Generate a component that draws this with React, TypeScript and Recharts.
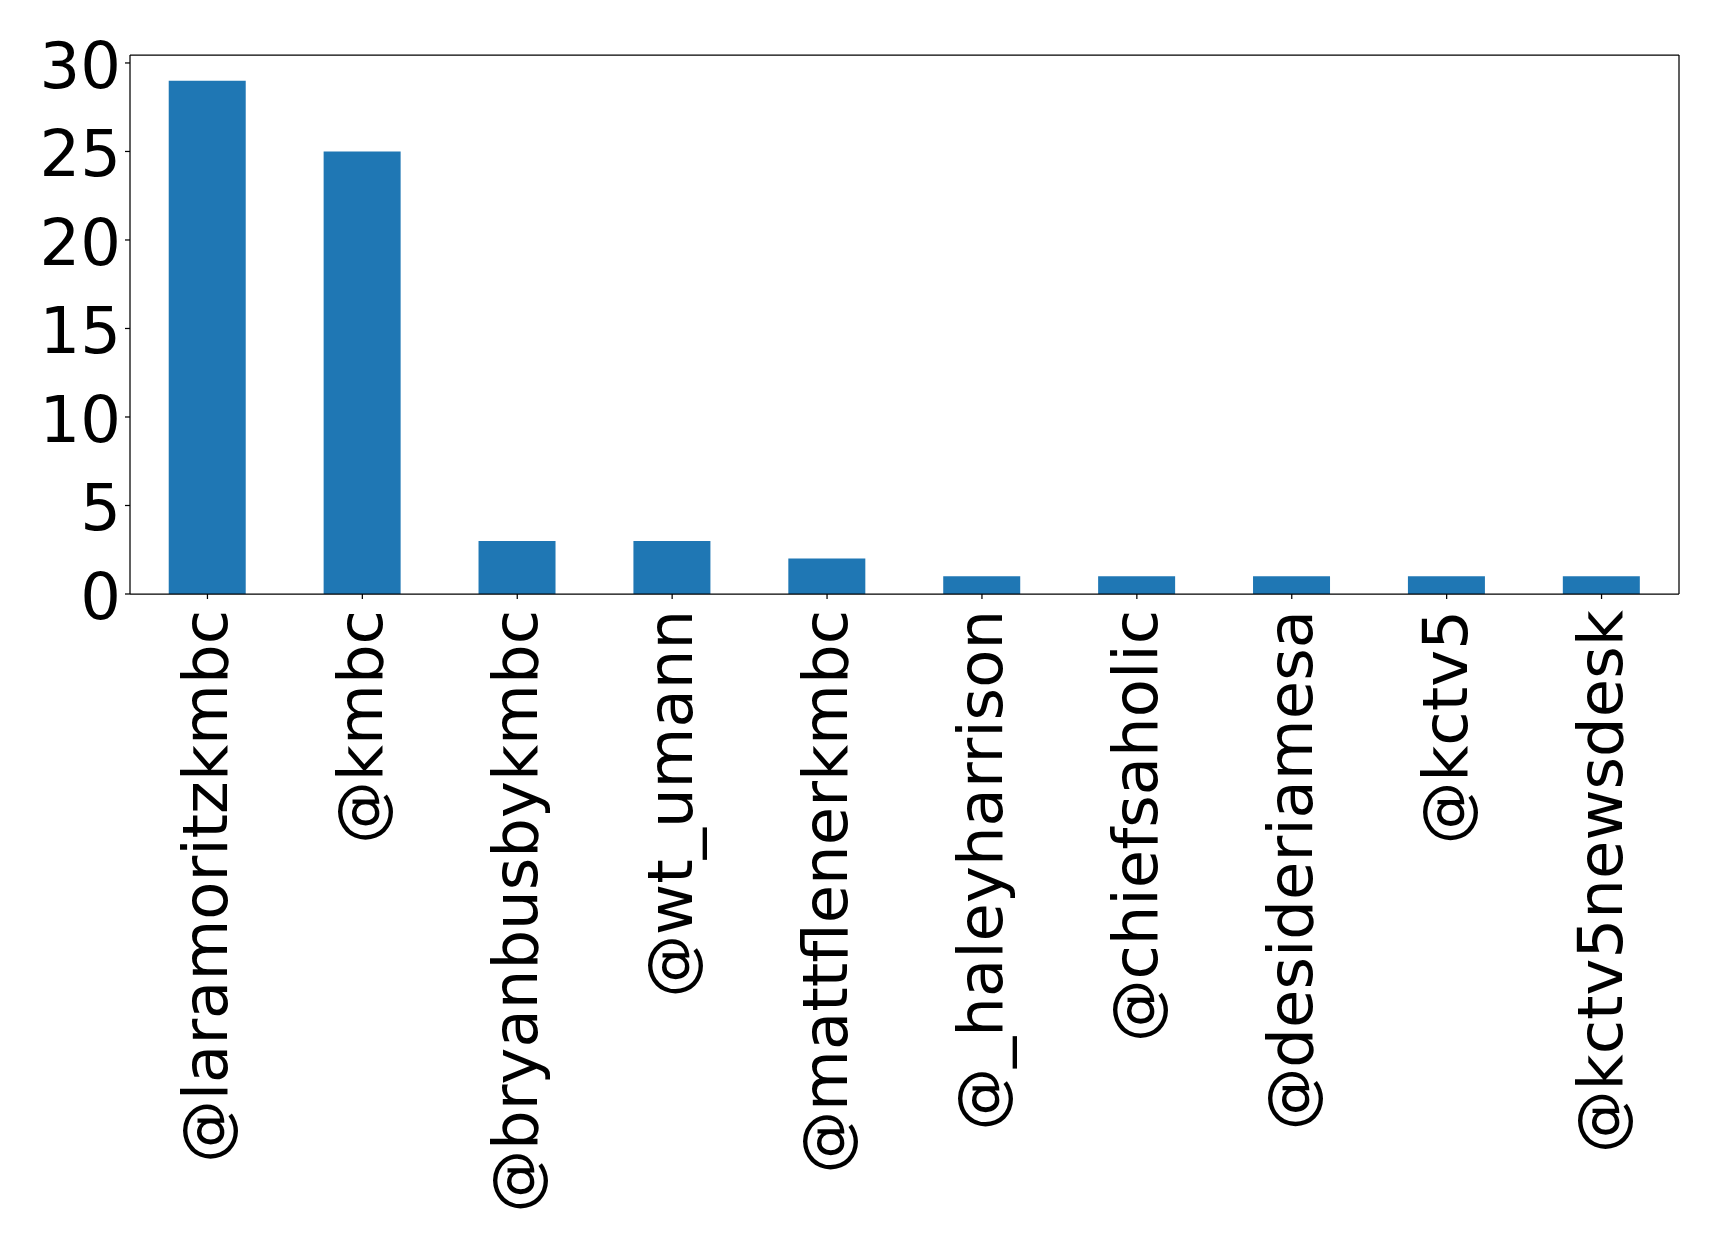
import React from "react";
import { BarChart, Bar, XAxis, YAxis } from "recharts";

const categories = [
  "@laramoritzkmbc",
  "@kmbc",
  "@bryanbusbykmbc",
  "@wt_umann",
  "@mattflenerkmbc",
  "@_haleyharrison",
  "@chiefsaholic",
  "@desideriamesa",
  "@kctv5",
  "@kctv5newsdesk",
];
const counts = [29, 25, 3, 3, 2, 1, 1, 1, 1, 1];
const yTicks = [0, 5, 10, 15, 20, 25, 30];

const data = categories.map((name, i) => ({ name, value: counts[i] }));

const FONT = "'DejaVu Sans', sans-serif";

const YTick = (props: any) => {
  const { x, y, payload } = props;
  return (
    <text x={x} y={y + 25} textAnchor="end" fontFamily={FONT} fontSize={64} fill="#000">
      {payload.value}
    </text>
  );
};

const XTick = (props: any) => {
  const { x, y, payload } = props;
  return (
    <g transform={`translate(${x},${y}) rotate(-90)`}>
      <text x={-11} y={20} textAnchor="end" fontFamily={FONT} fontSize={62.5} fill="#000">
        {payload.value}
      </text>
    </g>
  );
};

export default function App() {
  return (
    <div style={{ position: "absolute", left: 0, top: 0, width: 1719, height: 1246, background: "#fff" }}>
      <BarChart
        width={1719}
        height={1246}
        data={data}
        margin={{ top: 54, right: 39, left: 0, bottom: 0 }}
        barCategoryGap="25%"
      >
        <XAxis
          dataKey="name"
          height={652}
          interval={0}
          tickSize={5}
          tickMargin={0}
          tick={<XTick />}
          axisLine={{ stroke: "#000", strokeWidth: 1.25 }}
          tickLine={{ stroke: "#000", strokeWidth: 1.25 }}
        />
        <XAxis
          xAxisId="top"
          dataKey="name"
          orientation="top"
          height={1}
          interval={0}
          tick={false}
          tickLine={false}
          axisLine={{ stroke: "#000", strokeWidth: 1.25 }}
        />
        <YAxis
          width={130}
          domain={[0, 30.45]}
          ticks={yTicks}
          allowDataOverflow
          interval={0}
          tickSize={5}
          tickMargin={4}
          tick={<YTick />}
          axisLine={{ stroke: "#000", strokeWidth: 1.25 }}
          tickLine={{ stroke: "#000", strokeWidth: 1.25 }}
        />
        <YAxis
          yAxisId="right"
          orientation="right"
          width={1}
          domain={[0, 30.45]}
          tick={false}
          tickLine={false}
          axisLine={{ stroke: "#000", strokeWidth: 1.25 }}
        />
        <Bar dataKey="value" fill="#1f77b4" isAnimationActive={false} />
      </BarChart>
    </div>
  );
}
